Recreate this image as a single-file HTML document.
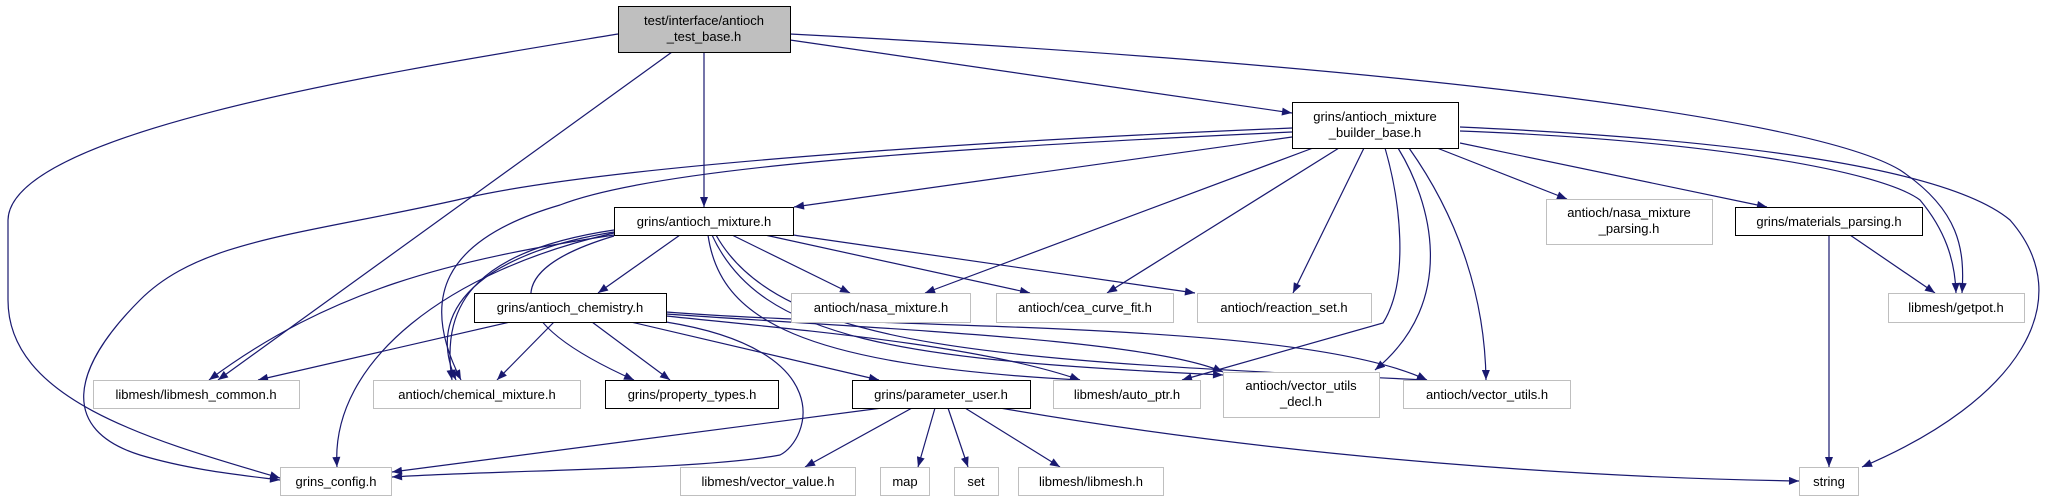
<!DOCTYPE html>
<html><head><meta charset="utf-8"><style>
html,body{margin:0;padding:0;background:#fff;}
svg{display:block;}
text{font-family:"Liberation Sans","DejaVu Sans",sans-serif;font-size:13px;fill:#000;}
</style></head><body>
<svg width="2050" height="501" viewBox="0 0 2050 501" xmlns="http://www.w3.org/2000/svg">
<defs>
<marker id="a" viewBox="0 0 10 8" refX="10" refY="4" markerWidth="11" markerHeight="8" markerUnits="userSpaceOnUse" orient="auto">
<path d="M0,0 L10,4 L0,8 z" fill="#191970"/>
</marker>
</defs>
<g fill="none" stroke="#191970" stroke-width="1.2" marker-end="url(#a)">
<!-- root -->
<path d="M618,34 C400,70 10,130 8,220 L8,300 C8,400 150,440 280,478"/>
<path d="M672,52 L218,380"/>
<path d="M704,52 L704,207"/>
<path d="M790,40 L1292,113"/>
<path d="M790,34 C1300,60 1800,110 1900,170 C1960,210 1965,250 1962,293"/>
<!-- builder -->
<path d="M1292,137 L794,207"/>
<path d="M1292,128 C1000,140 600,165 457,200 C300,235 200,240 140,300 C70,370 60,430 140,455 C190,470 240,475 280,480"/>
<path d="M1292,132 C900,150 650,170 560,205 C440,240 420,300 461,380"/>
<path d="M1313,148 L925,293"/>
<path d="M1339,148 L1107,293"/>
<path d="M1364,148 L1293,293"/>
<path d="M1385,148 C1400,200 1410,280 1383,323 L1182,380"/>
<path d="M1398,148 C1430,200 1460,300 1375,370"/>
<path d="M1409,148 C1460,220 1485,300 1486,380"/>
<path d="M1437,148 L1567,199"/>
<path d="M1460,143 L1767,207"/>
<path d="M1460,131 C1700,140 1880,170 1920,200 C1945,230 1955,260 1956,293"/>
<path d="M1460,127 C1750,140 1950,170 2010,220 C2080,300 2020,400 1862,467"/>
<!-- antioch_mixture -->
<path d="M614,235 C450,260 330,290 209,380"/>
<path d="M614,232 C500,250 420,300 456,380"/>
<path d="M614,230 C480,250 440,300 452,380"/>
<path d="M614,233 C450,270 330,360 337,467"/>
<path d="M614,236 C500,270 500,320 634,380"/>
<path d="M680,235 L598,293"/>
<path d="M732,235 L850,293"/>
<path d="M765,235 L1030,293"/>
<path d="M793,235 L1195,293"/>
<path d="M708,235 C720,320 800,365 1080,380"/>
<path d="M712,235 C760,340 900,360 1223,375"/>
<path d="M716,235 C780,350 1000,360 1427,380"/>
<!-- chemistry -->
<path d="M510,322 L258,380"/>
<path d="M554,322 L497,380"/>
<path d="M592,322 L670,380"/>
<path d="M631,322 L879,380"/>
<path d="M666,322 C840,350 810,440 780,455 C700,470 500,470 392,477"/>
<path d="M666,316 C800,330 980,345 1080,380"/>
<path d="M666,314 C900,330 1150,340 1223,372"/>
<path d="M666,312 C900,330 1300,320 1427,380"/>
<!-- parameter_user -->
<path d="M882,408 L392,472"/>
<path d="M912,408 L805,467"/>
<path d="M935,408 L918,467"/>
<path d="M948,408 L968,467"/>
<path d="M965,408 L1060,467"/>
<path d="M1000,408 C1300,460 1600,478 1799,481"/>
<!-- materials -->
<path d="M1850,235 L1935,293"/>
<path d="M1829,235 L1829,467"/>
</g>
<g stroke-width="1">
<rect x="618.5" y="6.5" width="172" height="46" fill="#bfbfbf" stroke="#000"/>
<rect x="614.5" y="207.5" width="179" height="28" fill="#fff" stroke="#000"/>
<rect x="474.5" y="293.5" width="192" height="29" fill="#fff" stroke="#000"/>
<rect x="605.5" y="380.5" width="173" height="28" fill="#fff" stroke="#000"/>
<rect x="852.5" y="380.5" width="178" height="28" fill="#fff" stroke="#000"/>
<rect x="1292.5" y="102.5" width="166" height="46" fill="#fff" stroke="#000"/>
<rect x="1735.5" y="207.5" width="187" height="28" fill="#fff" stroke="#000"/>
<g fill="#fff" stroke="#bfbfbf">
<rect x="791.5" y="293.5" width="179" height="29"/>
<rect x="996.5" y="293.5" width="177" height="29"/>
<rect x="1197.5" y="293.5" width="174" height="29"/>
<rect x="1888.5" y="293.5" width="136" height="29"/>
<rect x="1546.5" y="199.5" width="166" height="45"/>
<rect x="93.5" y="380.5" width="206" height="28"/>
<rect x="373.5" y="380.5" width="207" height="28"/>
<rect x="1053.5" y="380.5" width="147" height="28"/>
<rect x="1223.5" y="372.5" width="156" height="45"/>
<rect x="1403.5" y="380.5" width="167" height="28"/>
<rect x="280.5" y="467.5" width="111" height="28"/>
<rect x="680.5" y="467.5" width="175" height="28"/>
<rect x="880.5" y="467.5" width="49" height="28"/>
<rect x="954.5" y="467.5" width="44" height="28"/>
<rect x="1018.5" y="467.5" width="145" height="28"/>
<rect x="1799.5" y="467.5" width="59" height="28"/>
</g>
</g>
<g text-anchor="middle">
<text x="704" y="25">test/interface/antioch</text>
<text x="704" y="41">_test_base.h</text>
<text x="704" y="226">grins/antioch_mixture.h</text>
<text x="570" y="312">grins/antioch_chemistry.h</text>
<text x="692" y="399">grins/property_types.h</text>
<text x="941" y="399">grins/parameter_user.h</text>
<text x="1375" y="121">grins/antioch_mixture</text>
<text x="1375" y="137">_builder_base.h</text>
<text x="1829" y="226">grins/materials_parsing.h</text>
<text x="881" y="312">antioch/nasa_mixture.h</text>
<text x="1085" y="312">antioch/cea_curve_fit.h</text>
<text x="1284" y="312">antioch/reaction_set.h</text>
<text x="1956" y="312">libmesh/getpot.h</text>
<text x="1629" y="217">antioch/nasa_mixture</text>
<text x="1629" y="233">_parsing.h</text>
<text x="196" y="399">libmesh/libmesh_common.h</text>
<text x="477" y="399">antioch/chemical_mixture.h</text>
<text x="1127" y="399">libmesh/auto_ptr.h</text>
<text x="1301" y="390">antioch/vector_utils</text>
<text x="1301" y="406">_decl.h</text>
<text x="1487" y="399">antioch/vector_utils.h</text>
<text x="336" y="486">grins_config.h</text>
<text x="768" y="486">libmesh/vector_value.h</text>
<text x="905" y="486">map</text>
<text x="976" y="486">set</text>
<text x="1091" y="486">libmesh/libmesh.h</text>
<text x="1829" y="486">string</text>
</g>
</svg>
</body></html>
